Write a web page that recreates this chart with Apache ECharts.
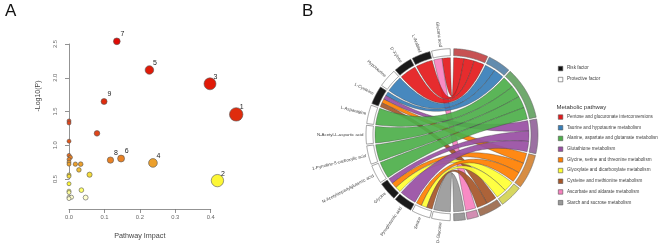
<!DOCTYPE html>
<html><head><meta charset="utf-8">
<script src="https://cdn.jsdelivr.net/npm/echarts@6/dist/echarts.min.js"></script>
<style>html,body{margin:0;padding:0;background:#fff}#c{width:658px;height:245px}</style>
</head><body><div id="c"></div>
<script>
// ---------------- Panel A data ----------------
const pathwayIds = ['1','2','3','4','5','6','7','8','9'];
const impact     = [0.472, 0.419, 0.398, 0.237, 0.227, 0.147, 0.135, 0.117, 0.099];
const negLogP    = [1.457, 0.476, 1.910, 0.738, 2.115, 0.803, 2.540, 0.780, 1.648];
const otherImpact  = [0.079, 0, 0, 0, 0, 0.004, 0, 0, 0, 0.018, 0.033, 0.028, 0.058, 0, 0, 0, 0, 0, 0.035, 0, 0.007, 0.047, 0];
const otherNegLogP = [1.176, 1.36, 1.33, 1.06, 0.85, 0.82, 0.79, 0.75, 0.72, 0.72, 0.72, 0.635, 0.564, 0.56, 0.54, 0.43, 0.32, 0.30, 0.335, 0.23, 0.23, 0.225, 0.21];
const xTicks = [0, 0.1, 0.2, 0.3, 0.4];
const yTicks = [0.5, 1.0, 1.5, 2.0, 2.5];

// ---------------- Panel B data ----------------
const metabolites = ['Glucaric acid','L-Arabitol','D-Xylose','Hypotaurine','L-Cysteine','L-Asparagine',
  'N-Acetyl-L-aspartic acid','1-Pyrroline-5-carboxylic acid','N-Acetylaspartylglutamic acid',
  'Glycine','Pyroglutamic acid','Serine','D-Glucose'];
const metaboliteRisk = [0,1,1,0,1,0,0,0,0,1,1,0,0]; // 1 = risk factor, 0 = protective
const pathways = ['Pentose and glucuronate interconversions','Taurine and hypotaurine metabolism',
  'Alanine, aspartate and glutamate metabolism','Glutathione metabolism',
  'Glycine, serine and threonine metabolism','Glyoxylate and dicarboxylate metabolism',
  'Cysteine and methionine metabolism','Ascorbate and aldarate metabolism','Starch and sucrose metabolism'];
const pathwayColors = ['#E41A1C','#377EB8','#4DAF4A','#984EA3','#FF7F00','#FFFF33','#A65628','#F781BF','#999999'];
const pathwaySize = [3, 2, 4.6, 3, 3, 2, 2, 1, 1];
const linkMetabolite = [0, 0, 1, 2, 3, 4, 4, 4, 4, 5, 6, 7, 8, 9, 9, 9, 10, 11, 11, 11, 12];
const linkPathway    = [0, 7, 0, 0, 1, 1, 3, 4, 6, 2, 2, 2, 2, 3, 4, 5, 3,  4,  5,  6,  8];
const legendRisk = ['Risk factor', 'Protective factor'];

// ---------------- layout of chord sectors (degrees clockwise from top) ----------------
const GAP = 1.2, GROUP_GAP = 2.4;
function layoutSectors(sizes, startDeg) {
  const span = 180 - GROUP_GAP;
  const sum = sizes.reduce((a, b) => a + b, 0);
  const unit = (span - GAP * (sizes.length - 1)) / sum;
  const out = []; let a = startDeg;
  sizes.forEach(s => { out.push([a, a + s * unit]); a += s * unit + GAP; });
  return out;
}
const pathSec = layoutSectors(pathwaySize, GROUP_GAP / 2);
const metabSec = layoutSectors(metabolites.map(() => 1), 180 + GROUP_GAP / 2).reverse();
const linkPos = linkPathway.map(() => ({}));
pathways.forEach((p, pi) => {
  const idx = linkPathway.map((q, k) => q === pi ? k : -1).filter(k => k >= 0)
    .sort((a, b) => linkMetabolite[a] - linkMetabolite[b]);
  const [s, e] = pathSec[pi]; const w = (e - s) / idx.length;
  idx.forEach((k, j) => { linkPos[k].p = [s + j * w, s + (j + 1) * w]; });
});
metabolites.forEach((m, mi) => {
  const idx = linkMetabolite.map((q, k) => q === mi ? k : -1).filter(k => k >= 0)
    .sort((a, b) => linkPathway[b] - linkPathway[a]);
  const [s, e] = metabSec[mi]; const w = (e - s) / idx.length;
  idx.forEach((k, j) => { linkPos[k].m = [s + j * w, s + (j + 1) * w]; });
});

const CHORD_R = 77, TRACK_R0 = 79, TRACK_R1 = 86, LABEL_R = 88.5;
function mix(hex, grey, t) {
  const c = [1, 3, 5].map(i => parseInt(hex.substr(i, 2), 16));
  return 'rgb(' + c.map(v => Math.round(v * (1 - t) + grey * t)).join(',') + ')';
}
function hexA(hex, a) {
  const c = [1, 3, 5].map(i => parseInt(hex.substr(i, 2), 16));
  return 'rgba(' + c.join(',') + ',' + a + ')';
}
function arcPts(api, r, a0, a1) {
  const n = Math.max(2, Math.ceil(Math.abs(a1 - a0) / 0.5));
  const pts = [];
  for (let i = 0; i <= n; i++) pts.push(api.coord([r, a0 + (a1 - a0) * i / n]));
  return pts;
}
function bez(p0, c, p2) {
  const pts = [];
  for (let i = 1; i < 40; i++) {
    const t = i / 40, u = 1 - t;
    pts.push([u * u * p0[0] + 2 * u * t * c[0] + t * t * p2[0], u * u * p0[1] + 2 * u * t * c[1] + t * t * p2[1]]);
  }
  return pts;
}

const chart = echarts.init(document.getElementById('c'));
const FONT = 'Liberation Sans, Arial, sans-serif';

const legendGraphics = [];
legendRisk.forEach((t, i) => {
  legendGraphics.push({type: 'rect', left: 558, top: 66 + i * 11, shape: {width: 4.5, height: 4.5},
    style: {fill: i === 0 ? '#111' : '#fff', stroke: '#555', lineWidth: 0.6}});
  legendGraphics.push({type: 'text', left: 567, top: 65.6 + i * 11,
    style: {text: t, fontSize: 4.6, fill: '#444', fontFamily: FONT}});
});
legendGraphics.push({type: 'text', left: 556.5, top: 104, style: {text: 'Metabolic pathway', fontSize: 6, fill: '#333', fontFamily: FONT}});
pathways.forEach((p, i) => {
  legendGraphics.push({type: 'rect', left: 558, top: 114.5 + i * 10.7, shape: {width: 4.5, height: 4.5},
    style: {fill: pathwayColors[i], stroke: '#555', lineWidth: 0.6}});
  legendGraphics.push({type: 'text', left: 567, top: 114.2 + i * 10.7,
    style: {text: p, fontSize: 4.6, fill: '#444', fontFamily: FONT}});
});
legendGraphics.push({type: 'text', left: 5, top: 3, style: {text: 'A', fontSize: 17, fill: '#111', fontFamily: FONT}});
legendGraphics.push({type: 'text', left: 302, top: 3, style: {text: 'B', fontSize: 17, fill: '#111', fontFamily: FONT}});
legendGraphics.push({type: 'text', x: 38, y: 96, rotation: Math.PI / 2,
  style: {text: '-Log10(P)', fontSize: 7, fill: '#444', fontFamily: FONT, align: 'center', verticalAlign: 'middle', textAlign: 'center', textVerticalAlign: 'middle'}});

const labeledPts = impact.map((x, i) => ({value: [x, negLogP[i]], name: pathwayIds[i],
  label: {show: true}}));
const otherPts = otherImpact.map((x, i) => ({value: [x, otherNegLogP[i]], name: ''}));

const option = {
  animation: false,
  backgroundColor: '#fff',
  grid: {left: 69, width: 141.7, top: 44, height: 143.3},
  xAxis: {type: 'value', min: xTicks[0], max: xTicks[xTicks.length - 1], interval: 0.1, offset: 30,
    name: 'Pathway Impact', nameLocation: 'middle', nameGap: 24,
    nameTextStyle: {fontSize: 7.2, color: '#444', fontFamily: FONT},
    axisLine: {lineStyle: {color: '#777', width: 0.8}},
    axisTick: {length: 4, lineStyle: {color: '#777', width: 0.8}},
    axisLabel: {fontSize: 5.8, color: '#666', margin: 5, fontFamily: FONT, formatter: v => v.toFixed(1)},
    splitLine: {show: false}},
  yAxis: {type: 'value', min: yTicks[0], max: yTicks[yTicks.length - 1], interval: 0.5, offset: 3,
    axisLine: {show: true, lineStyle: {color: '#777', width: 0.8}},
    axisTick: {show: true, length: 4, lineStyle: {color: '#777', width: 0.8}},
    axisLabel: {fontSize: 5.8, color: '#666', margin: 8, rotate: 90, fontFamily: FONT, formatter: v => v.toFixed(1)},
    splitLine: {show: false}},
  polar: {center: [452, 134.7], radius: TRACK_R1},
  angleAxis: {type: 'value', min: 0, max: 360, startAngle: 90, clockwise: true, show: false},
  radiusAxis: {type: 'value', min: 0, max: TRACK_R1, show: false},
  visualMap: {type: 'piecewise', show: false, seriesIndex: [0, 1], dimension: 1,
    pieces: [
      {gte: 2.3, color: '#E00A05'}, {gte: 1.8, lt: 2.3, color: '#E01A08'}, {gte: 1.4, lt: 1.8, color: '#DF2C0D'},
      {gte: 1.1, lt: 1.4, color: '#E0451A'}, {gte: 0.95, lt: 1.1, color: '#E25618'}, {gte: 0.83, lt: 0.95, color: '#E4691E'},
      {gte: 0.76, lt: 0.83, color: '#E98225'}, {gte: 0.7, lt: 0.76, color: '#ECA02C'}, {gte: 0.6, lt: 0.7, color: '#F0BE35'},
      {gte: 0.5, lt: 0.6, color: '#F5DC3C'}, {gte: 0.4, lt: 0.5, color: '#FDF735'}, {gte: 0.31, lt: 0.4, color: '#FFFF6A'},
      {gte: 0.26, lt: 0.31, color: '#FFFF9A'}, {lt: 0.26, color: '#FFFFD0'}]},
  graphic: legendGraphics,
  series: [
    {type: 'scatter', data: otherPts, clip: false, symbolSize: v => 4 + 20 * v[0],
      itemStyle: {borderColor: '#555', borderWidth: 0.6, opacity: 1}},
    {type: 'scatter', data: labeledPts, clip: false, symbolSize: v => 4 + 20 * v[0],
      itemStyle: {borderColor: '#555', borderWidth: 0.6, opacity: 1},
      label: {position: 'inside', offset: [5.5, -7], formatter: '{b}', fontSize: 7, color: '#222', fontFamily: FONT}},
    {type: 'custom', coordinateSystem: 'polar', data: linkPathway.map((p, k) => [0, k]),
      renderItem: function (params, api) {
        const k = params.dataIndex, L = linkPos[k];
        const c = api.coord([0, 0]);
        const pa = arcPts(api, CHORD_R, L.p[0], L.p[1]);
        const ma = arcPts(api, CHORD_R, L.m[0], L.m[1]);
        const pts = pa.concat(bez(pa[pa.length - 1], c, ma[0]), ma, bez(ma[ma.length - 1], c, pa[0]));
        return {type: 'polygon', shape: {points: pts},
          style: {fill: hexA(pathwayColors[linkPathway[k]], 0.92), stroke: 'rgba(60,60,60,0.8)', lineWidth: 0.45}};
      }},
    {type: 'custom', coordinateSystem: 'polar', data: pathways.concat(metabolites).map((n, i) => [0, i]),
      renderItem: function (params, api) {
        const i = params.dataIndex;
        const isP = i < pathways.length;
        const sec = isP ? pathSec[i] : metabSec[i - pathways.length];
        const outer = arcPts(api, TRACK_R1, sec[0], sec[1]);
        const inner = arcPts(api, TRACK_R0, sec[0], sec[1]).reverse();
        let fill;
        if (isP) fill = mix(pathwayColors[i], 160, 0.42);
        else fill = metaboliteRisk[i - pathways.length] ? '#1a1a1a' : '#ffffff';
        const children = [{type: 'polygon', shape: {points: outer.concat(inner)},
          style: {fill: fill, stroke: '#666', lineWidth: 0.6}}];
        if (!isP) {
          const mid = (sec[0] + sec[1]) / 2;
          const p = api.coord([LABEL_R, mid]);
          const theta = 90 - mid;
          children.push({type: 'text', x: p[0], y: p[1], rotation: (theta + 180) * Math.PI / 180,
            style: {text: metabolites[i - pathways.length], fontSize: 4.4, fill: '#444', fontFamily: FONT,
              align: 'right', verticalAlign: 'middle', textAlign: 'right', textVerticalAlign: 'middle'}});
        }
        return {type: 'group', children: children};
      }}
  ]
};
chart.setOption(option);
</script></body></html>
